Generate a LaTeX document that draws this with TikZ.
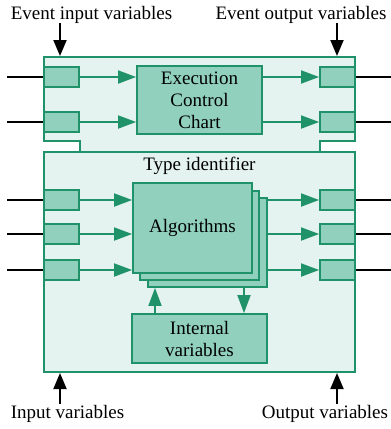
\documentclass[tikz,border=0pt]{standalone}
\usepackage{fontspec}
\setmainfont{Liberation Serif}
\newfontfamily\fbserif{Liberation Serif}
\usetikzlibrary{arrows.meta}
\definecolor{fbline}{RGB}{32,146,106}
\definecolor{fblight}{RGB}{228,243,239}
\definecolor{fbmid}{RGB}{144,208,189}
\tikzset{
  fbtext/.style={font=\fbserif\fontsize{19}{22}\selectfont, align=center},
  port/.style={draw=fbline, fill=fbmid, line width=1.8pt, minimum width=35pt, minimum height=20pt, inner sep=0pt},
  block/.style={draw=fbline, fill=fbmid, line width=1.8pt, inner sep=0pt, fbtext},
  flow/.style={draw=fbline, line width=1.8pt, -{Triangle[length=18pt,width=13pt]}, fbline},
  wire/.style={draw=black, line width=1.9pt},
  evarrow/.style={draw=black, line width=1.9pt, -{Triangle[length=16pt,width=13pt]}},
  caption/.style={fbtext, inner sep=0pt}
}
\begin{document}
\begin{tikzpicture}[x=1pt,y=-1pt]
\useasboundingbox (0,0) rectangle (391,429);

% function block outline: head, neck and body
\filldraw[draw=fbline, fill=fblight, line width=1.8pt]
  (44,57) -- (355,57) -- (355,141) -- (320,141) -- (320,152) -- (355,152)
  -- (355,372) -- (44,372) -- (44,152) -- (80,152) -- (80,141) -- (44,141) -- cycle;
\draw[fbline, line width=1.8pt] (44,152) -- (355,152);

% head: event ports and execution control chart
\node[port] (ei1) at (61.5,77) {};
\node[port] (ei2) at (61.5,122) {};
\node[port] (eo1) at (337.5,77) {};
\node[port] (eo2) at (337.5,122) {};
\node[block, minimum width=125pt, minimum height=68pt] (ecc) at (199.5,100) {Execution\\Control\\Chart};

% body: data ports, algorithms and internal variables
\node[port] (di1) at (61.5,200) {};
\node[port] (di2) at (61.5,234) {};
\node[port] (di3) at (61.5,270) {};
\node[port] (do1) at (337.5,200) {};
\node[port] (do2) at (337.5,234) {};
\node[port] (do3) at (337.5,270) {};

\node[caption] (tid) at (199.5,166) {Type identifier};

\node[block, minimum width=119pt, minimum height=89pt] (alg3) at (207.5,242.5) {};
\node[block, minimum width=119pt, minimum height=89pt] (alg2) at (199.5,235.5) {};
\node[block, minimum width=119pt, minimum height=90pt] (alg) at (192.5,228) {Algorithms};

\node[block, minimum width=135pt, minimum height=49pt] (int) at (199.5,338.5) {Internal\\variables};

% event flow through the head
\draw[flow] (ei1.east) -- (ei1.east -| ecc.west);
\draw[flow] (ei2.east) -- (ei2.east -| ecc.west);
\draw[flow] (eo1.west -| ecc.east) -- (eo1.west);
\draw[flow] (eo2.west -| ecc.east) -- (eo2.west);

% data flow through the body
\draw[flow] (di1.east) -- (di1.east -| alg.west);
\draw[flow] (di2.east) -- (di2.east -| alg.west);
\draw[flow] (di3.east) -- (di3.east -| alg.west);
\draw[flow] (do1.west -| alg3.east) -- (do1.west);
\draw[flow] (do2.west -| alg3.east) -- (do2.west);
\draw[flow] (do3.west -| alg3.east) -- (do3.west);

\coordinate (upx) at (155,0);
\coordinate (dnx) at (244,0);
\draw[flow] (int.north -| upx) -- (alg3.south -| upx);
\draw[flow] (alg3.south -| dnx) -- (int.north -| dnx);

% external wires
\coordinate (lw) at (7,0);
\coordinate (rw) at (391,0);
\foreach \p in {ei1,ei2,di1,di2,di3} \draw[wire] (\p.west -| lw) -- (\p.west);
\foreach \p in {eo1,eo2,do1,do2,do3} \draw[wire] (\p.east) -- (\p.east -| rw);

% captions and their arrows
\node[caption] (evin) at (91.5,15) {Event input variables};
\node[caption] (evout) at (301,15) {Event output variables};
\node[caption] (din) at (67.5,414) {Input variables};
\node[caption] (dout) at (325,414) {Output variables};

\coordinate (einA) at (60,23);
\coordinate (einB) at (60,56);
\coordinate (eoutA) at (337,23);
\coordinate (eoutB) at (337,56);
\coordinate (dinA) at (60,404);
\coordinate (dinB) at (60,373);
\coordinate (doutA) at (337,404);
\coordinate (doutB) at (337,373);
\draw[evarrow] (einA) -- (einB);
\draw[evarrow] (eoutA) -- (eoutB);
\draw[evarrow] (dinA) -- (dinB);
\draw[evarrow] (doutA) -- (doutB);
\end{tikzpicture}
\end{document}
